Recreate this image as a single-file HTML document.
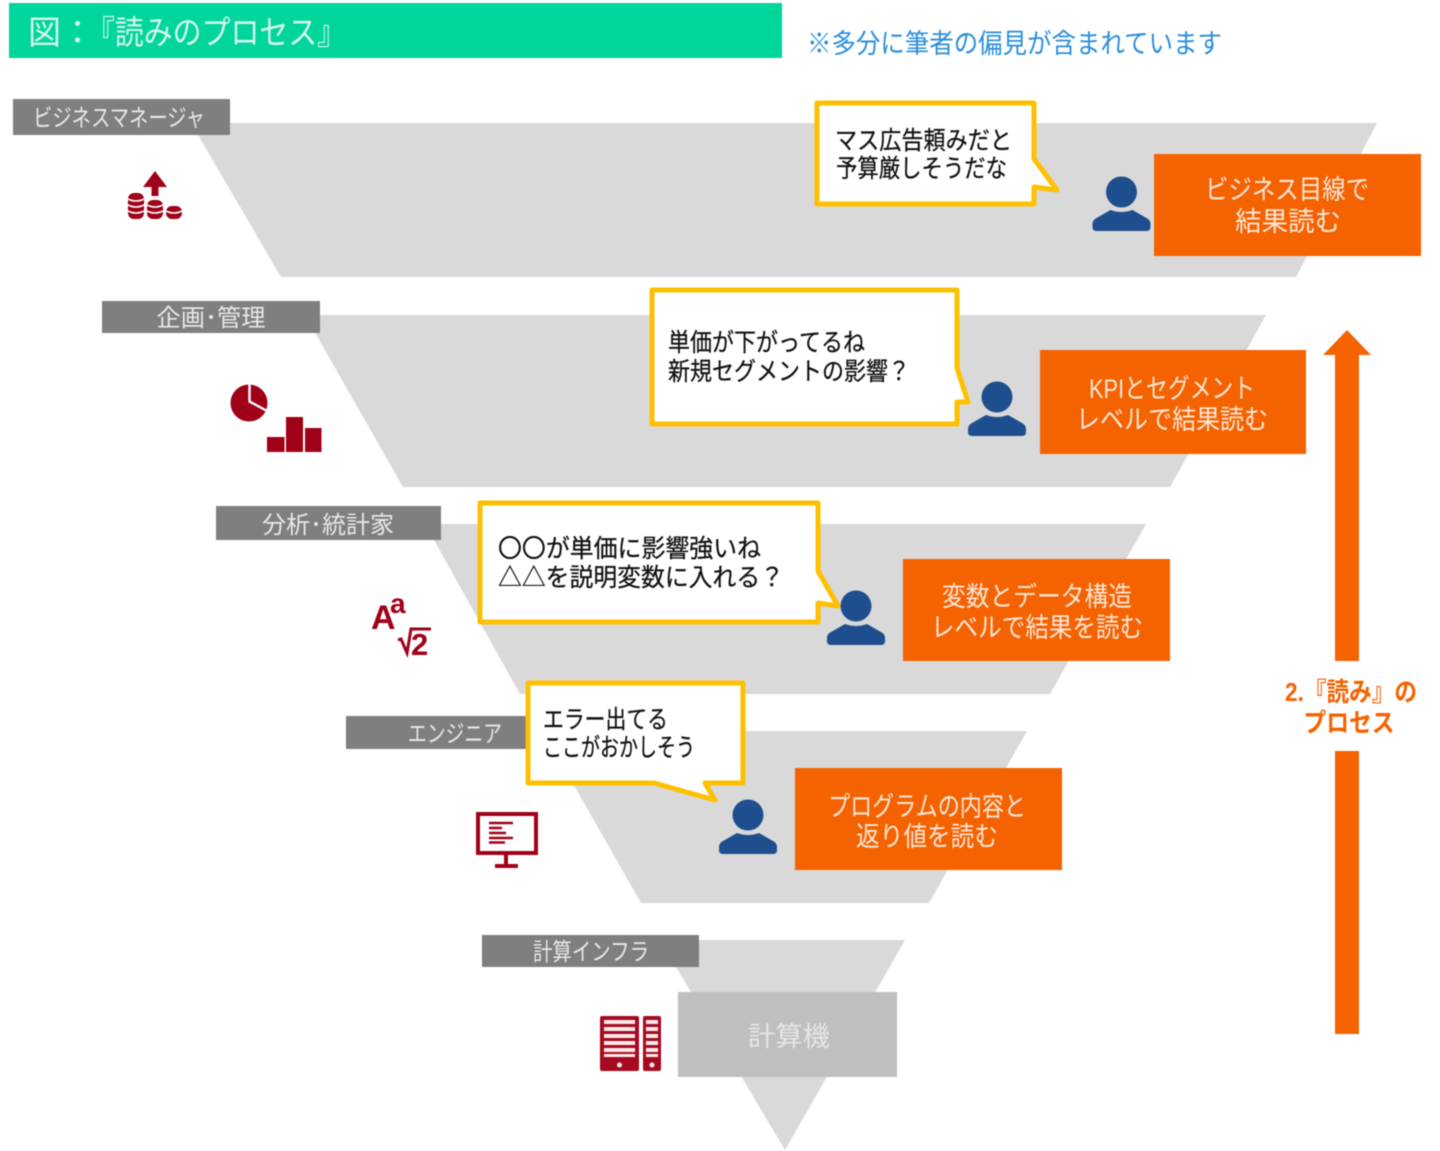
<!DOCTYPE html>
<html lang="ja"><head><meta charset="utf-8"><title>読みのプロセス</title>
<style>
html,body{margin:0;padding:0;background:#fff}
svg{display:block;filter:blur(0.4px)}
text{font-family:"Liberation Sans","Noto Sans CJK JP",sans-serif;font-weight:400}
.l{fill:#e8e8e8;font-size:24px;text-anchor:middle}
.o{fill:#fde6d6;font-size:27px;text-anchor:middle}
.b{fill:#111;font-size:25px;stroke:#111;stroke-width:.25px}
.f{fill:#a00018;font-weight:700;font-family:"Liberation Sans",sans-serif}
</style></head><body>
<svg xmlns="http://www.w3.org/2000/svg" width="1440" height="1151" viewBox="0 0 1440 1151">
<rect width="1440" height="1151" fill="#fff"/>
<rect x="9" y="3" width="773" height="55" fill="#00d69b"/>
<text x="28" y="44" font-size="33" fill="#d5f7ec" textLength="66" lengthAdjust="spacingAndGlyphs">図：</text>
<text x="86" y="44" font-size="33" fill="#d5f7ec" textLength="260" lengthAdjust="spacingAndGlyphs">『読みのプロセス』</text>
<text x="807" y="53" font-size="27" fill="#2a8fdc" textLength="415" lengthAdjust="spacingAndGlyphs">※多分に筆者の偏見が含まれています</text>

<g fill="#d9d9d9">
<polygon points="191,123 1377,123 1296,277 281,277"/>
<polygon points="305,315 1266,315 1170,487 403,487"/>
<polygon points="425,524 1146,524 1050,694 520,694"/>
<polygon points="543,731 1027,731 929,903 641,903"/>
<polygon points="660,940 905,940 785,1150"/>
</g>

<g fill="#7f7f7f">
<rect x="13" y="99" width="217" height="36"/>
<rect x="102" y="301" width="218" height="32"/>
<rect x="216" y="506" width="225" height="34"/>
<rect x="346" y="716" width="182" height="33"/>
<rect x="482" y="935" width="217" height="32"/>
</g>
<text class="l" x="119" y="126" textLength="172" lengthAdjust="spacingAndGlyphs">ビジネスマネージャ</text>
<text class="l" x="211" y="326" textLength="109" lengthAdjust="spacingAndGlyphs">企画･管理</text>
<text class="l" x="328" y="533" textLength="132" lengthAdjust="spacingAndGlyphs">分析･統計家</text>
<text class="l" x="455" y="742" textLength="94" lengthAdjust="spacingAndGlyphs">エンジニア</text>
<text class="l" x="591" y="960" textLength="116" lengthAdjust="spacingAndGlyphs">計算インフラ</text>

<!-- coins icon -->
<g fill="#a00018">
<polygon points="155,171 167,187 158.500,187 158.500,196 151.500,196 151.500,187 143,187"/>
<rect x="128" y="193" width="16" height="26" rx="6"/>
<rect x="147" y="200" width="16" height="19" rx="6"/>
<rect x="166" y="206" width="16" height="13" rx="6"/>
</g>
<g stroke="#fff" stroke-width="1.600" fill="none">
<path d="M128 199q8 4 16 0M128 205q8 4 16 0M128 211q8 4 16 0M147 205q8 4 16 0M147 211q8 4 16 0M166 211q8 4 16 0"/>
</g>

<!-- pie + bars -->
<circle cx="249" cy="403" r="18.500" fill="#a00018"/>
<path d="M249.500 384V401.500L269 412" fill="none" stroke="#fff" stroke-width="2.400"/>
<g fill="#a00018">
<rect x="267" y="437" width="17.500" height="15"/>
<rect x="286" y="417" width="17" height="35"/>
<rect x="305" y="428" width="16.500" height="24"/>
</g>

<!-- formula -->
<text class="f" x="371" y="629" font-size="34">A</text>
<text class="f" x="390" y="613" font-size="28">a</text>
<text class="f" x="411" y="655" font-size="31">2</text>
<path d="M398 640l3-1 6 14 4-24h20" fill="none" stroke="#a00018" stroke-width="3"/>

<!-- monitor -->
<rect x="478" y="814" width="58" height="39" fill="#fff" stroke="#a00018" stroke-width="4"/>
<path d="M506 855v10M495 866h23" stroke="#a00018" stroke-width="4" fill="none"/>
<path d="M489 823h24M489 828h13M489 833h17M489 838h24M489 842.500h16" stroke="#a00018" stroke-width="2.600" fill="none"/>

<!-- server -->
<rect x="600" y="1016" width="39" height="55" rx="2" fill="#a60a20"/>
<rect x="643" y="1016" width="18" height="55" rx="2" fill="#a60a20"/>
<g fill="#fbeaea">
<rect x="604" y="1020" width="31" height="4"/><rect x="604" y="1027" width="31" height="4"/><rect x="604" y="1034" width="31" height="4"/><rect x="604" y="1041" width="31" height="4"/><rect x="604" y="1048" width="31" height="4"/><rect x="604" y="1054" width="31" height="3"/>
<rect x="646" y="1020" width="12" height="4"/><rect x="646" y="1027" width="12" height="4"/><rect x="646" y="1034" width="12" height="4"/><rect x="646" y="1041" width="12" height="4"/><rect x="646" y="1048" width="12" height="4"/><rect x="646" y="1054" width="12" height="3"/>
<circle cx="619.500" cy="1065" r="2.500"/><circle cx="652" cy="1065" r="2.500"/>
</g>

<!-- orange boxes -->
<g fill="#f56200">
<rect x="1154" y="154" width="267" height="102"/>
<rect x="1040" y="350" width="266" height="104"/>
<rect x="903" y="559" width="267" height="102"/>
<rect x="795" y="768" width="267" height="102"/>
</g>
<text class="o" x="1287" y="199" textLength="164" lengthAdjust="spacingAndGlyphs">ビジネス目線で</text>
<text class="o" x="1288" y="231" textLength="106" lengthAdjust="spacingAndGlyphs">結果読む</text>
<text class="o" x="1172" y="398" textLength="166" lengthAdjust="spacingAndGlyphs">KPIとセグメント</text>
<text class="o" x="1172" y="429" textLength="192" lengthAdjust="spacingAndGlyphs">レベルで結果読む</text>
<text class="o" x="1037" y="606" textLength="190" lengthAdjust="spacingAndGlyphs">変数とデータ構造</text>
<text class="o" x="1037" y="637" textLength="212" lengthAdjust="spacingAndGlyphs">レベルで結果を読む</text>
<text class="o" x="927" y="816" textLength="198" lengthAdjust="spacingAndGlyphs">プログラムの内容と</text>
<text class="o" x="927" y="846" textLength="142" lengthAdjust="spacingAndGlyphs">返り値を読む</text>

<rect x="678" y="992" width="219" height="85" fill="#bfbfbf"/>
<text x="789" y="1046" font-size="27" text-anchor="middle" fill="#e6e6e6" textLength="82" lengthAdjust="spacingAndGlyphs">計算機</text>

<!-- people -->
<defs><g id="p"><circle cx="0" cy="15" r="15.500" fill="#1f4e8f"/><path d="M-29 47q0-4 4-6l14-8q11 4 22 0l14 8q4 2 4 6v3q0 4-4 4h-50q-4 0-4-4z" fill="#1f4e8f"/></g></defs>
<use href="#p" x="1121.500" y="177"/>
<use href="#p" x="997" y="382"/>
<use href="#p" x="856" y="591"/>
<use href="#p" x="748" y="800"/>

<!-- callouts -->
<g fill="#fff" stroke="#ffc000" stroke-width="5" stroke-linejoin="round">
<path d="M817 103H1034V159L1057 190L1034 187V204H817Z"/>
<path d="M652 290H957V368L968 402L957 402V424H652Z"/>
<path d="M480 503H818V571L838 606L818 603V622H480Z"/>
<path d="M528 683H743V783H705L715 800L654 783H528Z"/>
</g>
<text class="b" x="835" y="149" textLength="177" lengthAdjust="spacingAndGlyphs">マス広告頼みだと</text>
<text class="b" x="836" y="177" textLength="171" lengthAdjust="spacingAndGlyphs">予算厳しそうだな</text>
<text class="b" x="668" y="351" textLength="197" lengthAdjust="spacingAndGlyphs">単価が下がってるね</text>
<text class="b" x="668" y="380" textLength="242" lengthAdjust="spacingAndGlyphs">新規セグメントの影響？</text>
<text class="b" x="498" y="557" textLength="263" lengthAdjust="spacingAndGlyphs">〇〇が単価に影響強いね</text>
<text class="b" x="498" y="586" textLength="286" lengthAdjust="spacingAndGlyphs">△△を説明変数に入れる？</text>
<text class="b" x="543" y="728" textLength="125" lengthAdjust="spacingAndGlyphs">エラー出てる</text>
<text class="b" x="543" y="756" textLength="152" lengthAdjust="spacingAndGlyphs">ここがおかしそう</text>

<!-- big arrow -->
<polygon points="1347,330 1371,355 1359,355 1359,661 1335,661 1335,355 1323,355" fill="#f56200"/>
<rect x="1335" y="751" width="24" height="283" fill="#f56200"/>
<text x="1351" y="701" font-size="26" style="font-weight:700" fill="#f56200" text-anchor="middle" textLength="132" lengthAdjust="spacingAndGlyphs">2.『読み』の</text>
<text x="1349" y="732" font-size="26" style="font-weight:700" fill="#f56200" text-anchor="middle" textLength="91" lengthAdjust="spacingAndGlyphs">プロセス</text>
</svg>
</body></html>
